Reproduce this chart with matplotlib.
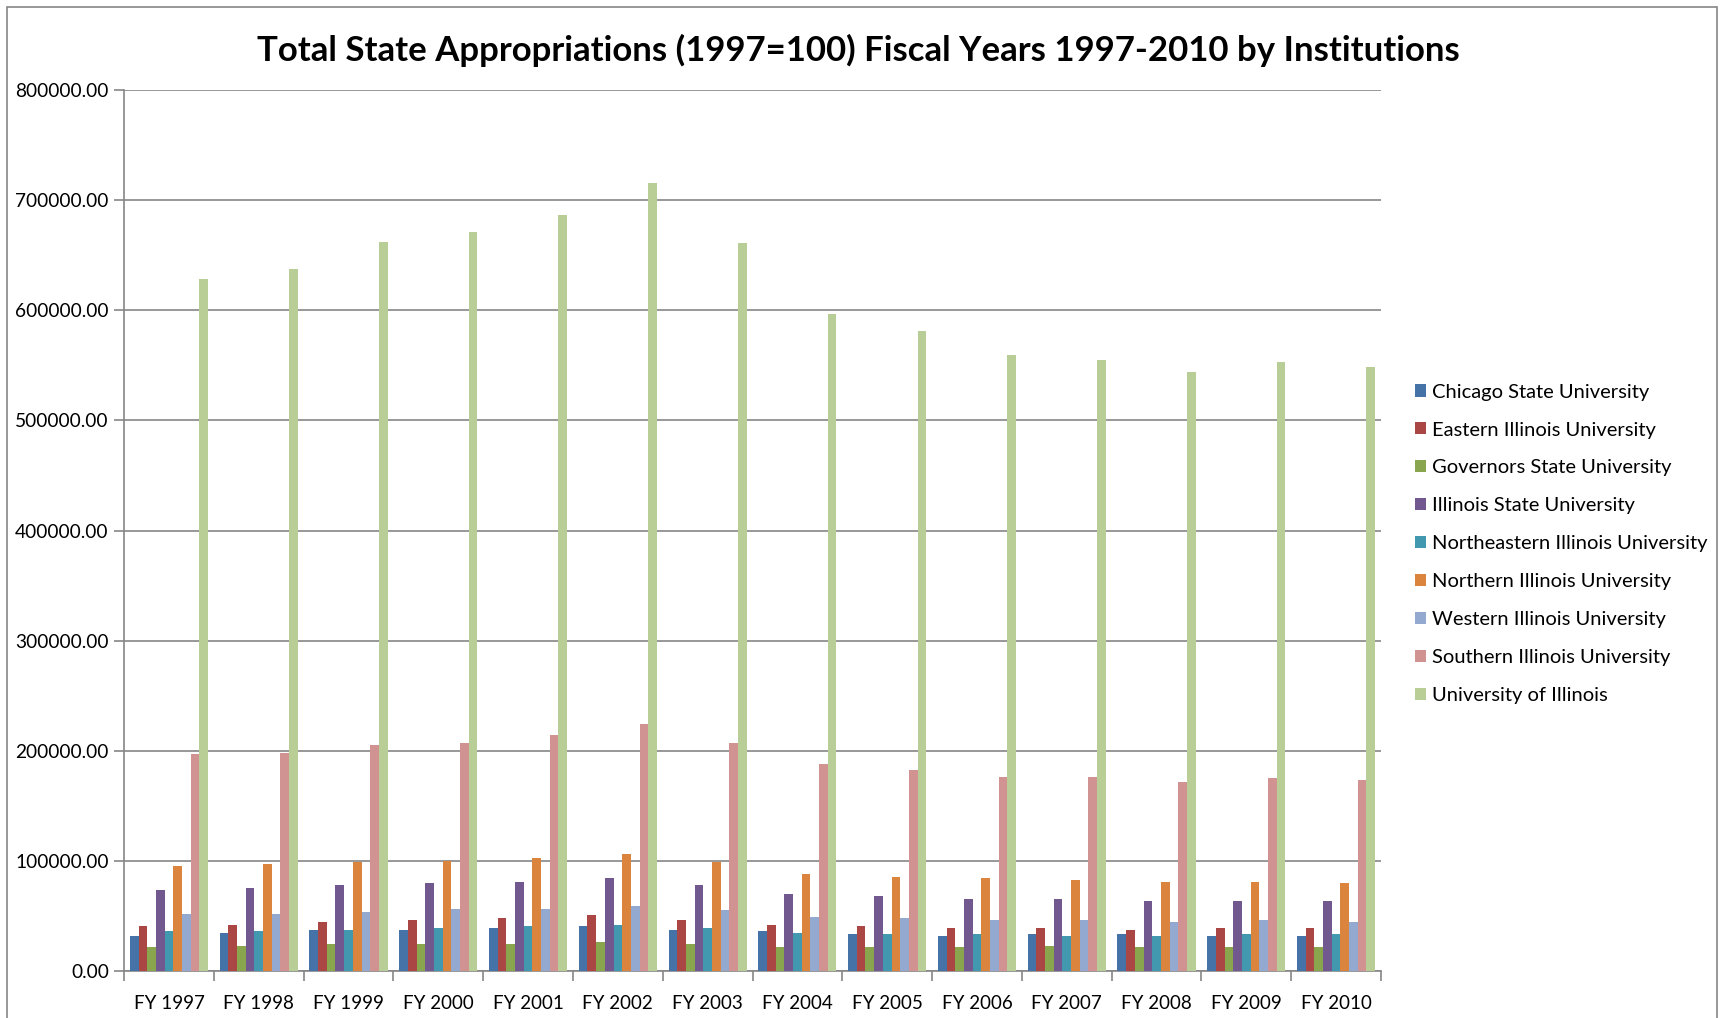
import numpy as np
import matplotlib
matplotlib.use('Agg')
import matplotlib.pyplot as plt
from matplotlib.patches import Rectangle

plt.rcParams['font.family'] = ['Lato', 'DejaVu Sans']

# data
years = ['FY 1997', 'FY 1998', 'FY 1999', 'FY 2000', 'FY 2001', 'FY 2002', 'FY 2003',
         'FY 2004', 'FY 2005', 'FY 2006', 'FY 2007', 'FY 2008', 'FY 2009', 'FY 2010']

chicago = [32300, 35000, 37700, 37700, 39500, 41300, 37700, 36800, 34100, 32300, 34100, 34100, 32300, 32300]
eastern = [41400, 42300, 45000, 46800, 48600, 51300, 46800, 42300, 41400, 39500, 39500, 37700, 39500, 39500]
governors = [22300, 23200, 25000, 25000, 25000, 26800, 25000, 22300, 22300, 22300, 23200, 22300, 22300, 22300]
illinois_state = [74100, 75900, 78600, 80500, 81400, 85000, 78600, 70500, 68700, 65900, 65900, 64100, 64100, 64100]
northeastern = [36800, 36800, 37700, 39500, 41300, 42300, 39500, 35000, 34100, 34100, 32300, 32300, 34100, 34100]
northern = [95900, 97700, 99500, 100400, 103100, 106800, 99500, 88600, 85900, 85000, 83200, 81400, 81400, 80500]
western = [52300, 52300, 54100, 56800, 56800, 59600, 55900, 49600, 48600, 46800, 46800, 45000, 46800, 45000]
southern = [196800, 197700, 205000, 206800, 214000, 224000, 206800, 187700, 182300, 175900, 175900, 171400, 175000, 173200]
u_of_i = [628000, 637400, 662300, 671300, 686300, 715200, 661400, 596500, 581500, 559600, 554600, 543600, 552600, 548600]

series_names = ['Chicago State University', 'Eastern Illinois University', 'Governors State University',
                'Illinois State University', 'Northeastern Illinois University', 'Northern Illinois University',
                'Western Illinois University', 'Southern Illinois University', 'University of Illinois']
series_values = [chicago, eastern, governors, illinois_state, northeastern, northern, western, southern, u_of_i]
colors = ['#4572A7', '#AA4643', '#89A54E', '#71588F', '#4198AF', '#DB843D', '#93A9CF', '#D19392', '#B9CD96']

fig = plt.figure(figsize=(17.23, 10.18), dpi=100)
ax = fig.add_axes([0.072, 0.046, 0.7295, 0.8656])

x = np.arange(len(years))
n = len(series_values)
group_w = 0.87
bar_w = group_w / n
for i, (name, vals) in enumerate(zip(series_names, series_values)):
    offs = -group_w / 2 + bar_w * (i + 0.5)
    ax.bar(x + offs, vals, width=bar_w, color=colors[i], label=name, zorder=3)

ax.set_xlim(-0.5, len(years) - 0.5)
ax.set_ylim(0, 800000)
ax.set_yticks(np.arange(0, 800001, 100000))
ax.yaxis.set_major_formatter(matplotlib.ticker.FormatStrFormatter('%.2f'))
ax.grid(axis='y', color='#868686', linewidth=1.2, zorder=0)

ax.set_xticks(x)
ax.set_xticklabels(years)
ax.set_xticks(np.arange(-0.5, len(years), 1.0), minor=True)
ax.tick_params(axis='x', which='major', length=0, pad=17, labelsize=13.5)
ax.tick_params(axis='x', which='minor', length=7, color='#868686', width=1.2)
ax.tick_params(axis='y', length=7, color='#868686', width=1.2, labelsize=13.8, pad=4)

for s in ['top', 'right']:
    ax.spines[s].set_visible(False)
for s in ['left', 'bottom']:
    ax.spines[s].set_color('#868686')
    ax.spines[s].set_linewidth(1.2)

fig.text(0.498, 0.950, 'Total State Appropriations (1997=100) Fiscal Years 1997-2010 by Institutions',
         ha='center', va='center', fontsize=25, fontweight='bold')

fig.legend(loc='upper left', bbox_to_anchor=(0.8105, 0.641), frameon=False, fontsize=14.5,
           handlelength=0.55, handleheight=0.55, handletextpad=0.32, labelspacing=1.04)

# outer chart border
fig.patches.append(Rectangle((0.004, -0.01), 0.9925, 1.003, transform=fig.transFigure,
                             fill=False, edgecolor='#868686', linewidth=1.2))

fig.savefig('out.png', dpi=100)
